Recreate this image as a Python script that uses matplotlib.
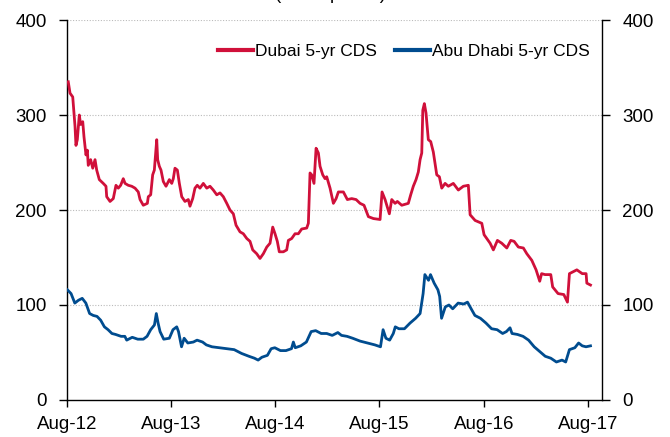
import matplotlib
matplotlib.use("Agg")
import matplotlib.pyplot as plt
import numpy as np
import pandas as pd

plt.rcParams['font.family'] = ['Liberation Sans', 'DejaVu Sans']

# Years elapsed since 1 Aug 2012, and values in basis points
dubai_t = [0.012, 0.029, 0.055, 0.077, 0.086, 0.099, 0.118, 0.131, 0.151, 0.163, 0.182, 0.195,
           0.204, 0.227, 0.247, 0.269, 0.285, 0.310, 0.348, 0.374, 0.381, 0.413, 0.444, 0.470,
           0.492, 0.515, 0.540, 0.557, 0.588, 0.621, 0.653, 0.684, 0.701, 0.732, 0.771, 0.780,
           0.803, 0.822, 0.838, 0.851, 0.861, 0.870, 0.886, 0.902, 0.924, 0.950, 0.982, 1.005,
           1.020, 1.036, 1.059, 1.078, 1.101, 1.132, 1.164, 1.180, 1.206, 1.228, 1.250, 1.276,
           1.308, 1.341, 1.372, 1.404, 1.437, 1.468, 1.500, 1.533, 1.564, 1.596, 1.622, 1.660,
           1.692, 1.725, 1.756, 1.782, 1.820, 1.852, 1.884, 1.917, 1.948, 1.974, 1.996, 2.018,
           2.037, 2.076, 2.108, 2.124, 2.156, 2.188, 2.220, 2.252, 2.300, 2.316, 2.332, 2.348,
           2.370, 2.390, 2.412, 2.428, 2.454, 2.476, 2.492, 2.524, 2.556, 2.582, 2.604, 2.652,
           2.690, 2.732, 2.774, 2.812, 2.850, 2.892, 2.940, 3.004, 3.023, 3.052, 3.093, 3.116,
           3.148, 3.170, 3.212, 3.275, 3.298, 3.323, 3.349, 3.371, 3.388, 3.404, 3.414, 3.429,
           3.445, 3.467, 3.490, 3.515, 3.548, 3.573, 3.596, 3.628, 3.659, 3.707, 3.755, 3.803,
           3.851, 3.868, 3.916, 3.980, 4.002, 4.060, 4.091, 4.130, 4.172, 4.220, 4.258, 4.290,
           4.331, 4.379, 4.412, 4.460, 4.501, 4.536, 4.554, 4.587, 4.642, 4.660, 4.712, 4.767,
           4.802, 4.821, 4.892, 4.944, 4.981, 4.988, 5.023]
dubai_v = [335, 323, 319, 288, 268, 274, 300, 290, 293, 277, 258, 263,
           247, 253, 244, 253, 242, 232, 228, 225, 214, 209, 212, 226,
           223, 226, 233, 228, 226, 225, 223, 219, 211, 205, 207, 214,
           216, 237, 242, 260, 274, 253, 246, 242, 230, 225, 232, 228,
           233, 244, 242, 228, 214, 209, 211, 204, 212, 223, 226, 223,
           228, 223, 225, 221, 216, 218, 214, 207, 200, 196, 184, 177,
           175, 170, 167, 158, 154, 149, 154, 161, 165, 182, 175, 167,
           156, 156, 158, 168, 170, 175, 175, 180, 181, 186, 239, 237,
           228, 265, 260, 246, 237, 233, 235, 223, 207, 212, 219, 219,
           211, 212, 211, 207, 205, 193, 191, 190, 219, 211, 196, 211,
           207, 209, 205, 207, 216, 225, 232, 240, 253, 260, 305, 312,
           302, 274, 272, 261, 237, 235, 223, 228, 225, 228, 221, 225,
           226, 195, 189, 186, 174, 165, 158, 168, 165, 160, 168, 167,
           161, 160, 154, 147, 137, 125, 133, 132, 132, 119, 112, 111,
           103, 133, 137, 133, 133, 123, 121]

abu_t = [0.004, 0.039, 0.075, 0.110, 0.146, 0.181, 0.217, 0.252, 0.288, 0.323, 0.359, 0.394,
         0.431, 0.466, 0.519, 0.555, 0.573, 0.626, 0.679, 0.732, 0.768, 0.803, 0.839, 0.857,
         0.874, 0.893, 0.928, 0.982, 1.017, 1.053, 1.070, 1.099, 1.124, 1.159, 1.212, 1.248,
         1.301, 1.337, 1.391, 1.462, 1.533, 1.604, 1.675, 1.746, 1.798, 1.834, 1.870, 1.923,
         1.959, 1.994, 2.048, 2.101, 2.154, 2.172, 2.190, 2.243, 2.297, 2.343, 2.386, 2.439,
         2.492, 2.545, 2.599, 2.634, 2.687, 2.741, 2.812, 2.883, 2.954, 3.008, 3.033, 3.060,
         3.096, 3.131, 3.150, 3.185, 3.238, 3.292, 3.345, 3.388, 3.417, 3.434, 3.469, 3.488,
         3.523, 3.559, 3.576, 3.594, 3.630, 3.665, 3.701, 3.753, 3.807, 3.843, 3.878, 3.914,
         3.967, 4.020, 4.074, 4.127, 4.180, 4.216, 4.251, 4.270, 4.322, 4.376, 4.429, 4.483,
         4.536, 4.589, 4.642, 4.696, 4.750, 4.785, 4.821, 4.873, 4.909, 4.944, 4.980, 5.023]
abu_v = [116, 112, 102, 105, 107, 102, 91, 89, 88, 84, 77, 74,
         70, 69, 67, 67, 63, 66, 64, 64, 67, 74, 79, 91,
         81, 72, 64, 65, 74, 77, 72, 56, 65, 60, 61, 63,
         61, 58, 56, 55, 54, 53, 49, 46, 44, 42, 45, 47,
         54, 55, 52, 52, 54, 61, 55, 57, 61, 72, 73, 70,
         70, 68, 71, 68, 67, 65, 62, 60, 58, 56, 74, 65,
         63, 70, 77, 75, 75, 81, 86, 91, 112, 132, 126, 132,
         123, 116, 109, 86, 98, 100, 96, 102, 101, 103, 96, 89,
         86, 81, 75, 74, 70, 72, 76, 70, 69, 67, 63, 56,
         51, 46, 44, 40, 42, 40, 53, 55, 60, 57, 56, 57]

tick_labels = ['Aug-12', 'Aug-13', 'Aug-14', 'Aug-15', 'Aug-16', 'Aug-17']
y_ticks = [0, 100, 200, 300, 400]

start = pd.Timestamp('2012-08-01')
def to_dates(t):
    return start + pd.to_timedelta(np.array(t) * 365.25, unit='D')

fig = plt.figure(figsize=(6.70, 4.37), dpi=100)
ax = fig.add_axes([0.1, 0.0847, 0.7985, 0.8695])

red = '#D0103A'
blue = '#004C8F'
ax.plot(to_dates(dubai_t), dubai_v, color=red, lw=2.0, label='Dubai 5-yr CDS', zorder=3)
ax.plot(to_dates(abu_t), abu_v, color=blue, lw=2.0, label='Abu Dhabi 5-yr CDS', zorder=3)

ax.set_ylim(0, 400)
ax.set_xlim(start, start + pd.Timedelta(days=int(5.134 * 365.25)))
ax.set_yticks(y_ticks)
ax.set_yticklabels([str(v) for v in y_ticks])
tick_dates = [pd.Timestamp(f'20{lbl[-2:]}-08-01') for lbl in tick_labels]
ax.set_xticks(tick_dates)
ax.set_xticklabels(tick_labels)

for v in y_ticks[1:]:
    ax.axhline(v, color='#BBBBBB', lw=0.8, ls=(0, (1, 1.5)), zorder=1)

ax.spines['top'].set_visible(False)
for s in ['left', 'right', 'bottom']:
    ax.spines[s].set_color('black')
    ax.spines[s].set_linewidth(1.0)
ax.tick_params(axis='y', which='both', direction='out', length=6, width=1,
               labelsize=13.5, left=True, right=True, labelleft=True, labelright=True, pad=8.5)
ax.tick_params(axis='x', direction='out', length=5, width=1, labelsize=13.5, pad=6.5)

leg = ax.legend(loc='upper right', bbox_to_anchor=(0.99, 0.955), ncol=2, frameon=False,
                fontsize=12.5, handlelength=2.0, handletextpad=0.1, columnspacing=1.1,
                borderaxespad=0.0)
for line in leg.get_lines():
    line.set_linewidth(3.0)

fig.text(0.494, 1.0 + 1.5 / 437, '(basis points)', ha='center', va='baseline', fontsize=13.5)

fig.savefig('out.png', dpi=100)
